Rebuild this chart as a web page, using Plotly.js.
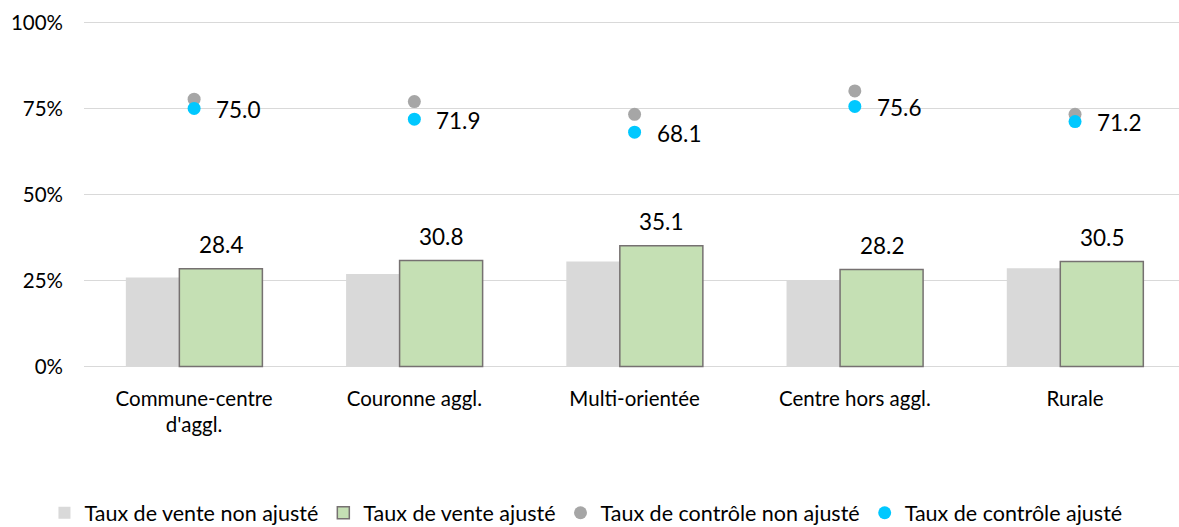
<!DOCTYPE html>
<html>
<head>
<meta charset="utf-8">
<script src="https://cdn.plot.ly/plotly-3.0.1.min.js"></script>
<style>html,body{margin:0;padding:0;background:#fff;}#chart{width:1179px;height:527px;}</style>
</head>
<body>
<div id="chart"></div>
<script>
const categories = ["Commune-centre<br>d'aggl.", "Couronne aggl.", "Multi-orientée", "Centre hors aggl.", "Rurale"];
const venteNonAjuste = [25.9, 26.9, 30.5, 25.0, 28.6];
const venteAjuste = [28.4, 30.8, 35.1, 28.2, 30.5];
const controleNonAjuste = [77.7, 77.0, 73.3, 80.1, 73.3];
const controleAjuste = [75.0, 71.9, 68.1, 75.6, 71.2];
const seriesNames = ["Taux de vente non ajusté", "Taux de vente ajusté", "Taux de contrôle non ajusté", "Taux de contrôle ajusté"];
const yTicks = [0, 25, 50, 75, 100];
const yTickLabels = ["0%", "25%", "50%", "75%", "100%"];

const xs = categories.map((_, i) => i);
const barW = 0.377;
const greyOff = -0.31;
const greenOff = -0.067;
const FONT = "Lato, 'Open Sans', sans-serif";

const traces = [
  {type: 'bar', name: seriesNames[0], x: xs, y: venteNonAjuste, width: barW, offset: greyOff,
   marker: {color: '#d9d9d9', line: {width: 0}}, hoverinfo: 'y'},
  {type: 'bar', name: seriesNames[1], x: xs, y: venteAjuste, width: barW, offset: greenOff,
   marker: {color: '#c5e0b4', line: {color: '#767171', width: 1.5}}, hoverinfo: 'y'},
  {type: 'scatter', mode: 'markers', name: seriesNames[2], x: xs, y: controleNonAjuste,
   marker: {color: '#a6a6a6', size: 13}},
  {type: 'scatter', mode: 'markers', name: seriesNames[3], x: xs, y: controleAjuste,
   marker: {color: '#00c8ff', size: 13}}
];

const annotations = [];
venteAjuste.forEach((v, i) => {
  annotations.push({x: i + greenOff + barW / 2, y: v, xref: 'x', yref: 'y', text: v.toFixed(1),
    showarrow: false, yanchor: 'bottom', yshift: 9, font: {family: FONT, size: 22.5, color: '#000'}});
});
controleAjuste.forEach((v, i) => {
  annotations.push({x: i, y: v, xref: 'x', yref: 'y', text: v.toFixed(1),
    showarrow: false, xanchor: 'left', yanchor: 'middle', xshift: 20, yshift: -1,
    font: {family: FONT, size: 22.5, color: '#000'}});
});

const layout = {
  width: 1179, height: 527,
  margin: {l: 84, r: 0, t: 19, b: 157, autoexpand: false},
  paper_bgcolor: '#fff', plot_bgcolor: '#fff',
  barmode: 'overlay',
  showlegend: true,
  font: {family: FONT, size: 20.5, color: '#000'},
  xaxis: {range: [-0.5, 4.472], tickvals: xs, ticktext: categories, showgrid: false,
    zeroline: false, showline: false, ticks: '', ticklabelstandoff: 14, automargin: false,
    tickfont: {family: FONT, size: 20.5, color: '#000'}},
  yaxis: {range: [-1, 101], tickvals: yTicks, ticktext: yTickLabels, showgrid: true, gridcolor: '#d9d9d9',
    gridwidth: 1.5, zeroline: false, showline: false, ticks: '', ticklabelstandoff: 20, automargin: false,
    tickfont: {family: FONT, size: 20.5, color: '#000'}},
  legend: {orientation: 'h', xref: 'container', yref: 'container', x: 0.497, xanchor: 'center',
    y: 0.027, yanchor: 'middle',
    font: {family: FONT, size: 21.5, color: '#000'}, itemwidth: 30, traceorder: 'normal'},
  annotations: annotations
};

Plotly.newPlot('chart', traces, layout, {displayModeBar: false, staticPlot: true});
</script>
</body>
</html>
